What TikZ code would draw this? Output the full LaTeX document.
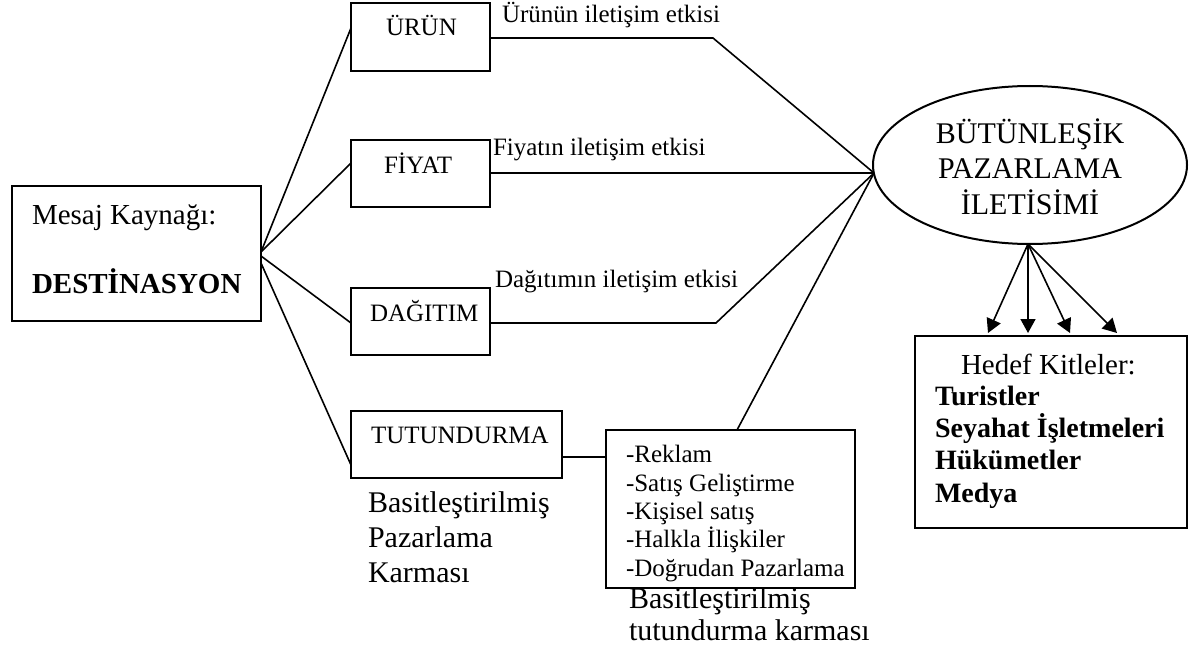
\documentclass[tikz,border=0pt]{standalone}
\usepackage{fontspec}
\setmainfont{Liberation Serif}
\usetikzlibrary{shapes.geometric,arrows.meta,calc}
\newcommand\szS{\fontsize{25}{29}\selectfont}
\newcommand\szM{\fontsize{29}{34}\selectfont}
\newcommand\szL{\fontsize{30}{35}\selectfont}
\newcommand\szB{\fontsize{28}{32}\selectfont}
\begin{document}
\begin{tikzpicture}[x=1pt,y=-1pt,
  box/.style={draw,line width=2pt,inner sep=0pt,outer sep=0pt},
  lbl/.style={inner sep=0pt,outer sep=0pt,anchor=base west},
  clbl/.style={inner sep=0pt,outer sep=0pt,anchor=base},
  conn/.style={line width=1.6pt,line join=miter},
  arr/.style={conn,-{Triangle[length=14pt,width=15pt]}}]
\useasboundingbox (0,0) rectangle (1199,658);
\fill[white] (0,0) rectangle (1199,658);

% boxes
\node[box,minimum width=249pt,minimum height=135pt] (src) at (136.5,253.5) {};
\node[box,minimum width=139pt,minimum height=68pt] (urun) at (420.5,37) {};
\node[box,minimum width=139pt,minimum height=67pt] (fiyat) at (420.5,173.5) {};
\node[box,minimum width=139pt,minimum height=67pt] (dagitim) at (420.5,321.5) {};
\node[box,minimum width=211pt,minimum height=67pt] (tutun) at (456.5,444.5) {};
\node[box,minimum width=249pt,minimum height=158pt] (list) at (730.5,509) {};
\node[box,minimum width=272pt,minimum height=192pt] (hedef) at (1051,432) {};
\node[box,ellipse,minimum width=314pt,minimum height=158pt] (ell) at (1030,165) {};

% texts
\node[lbl,font=\szM] (srcA) at (32,224) {Mesaj Kaynağı:};
\node[lbl,font=\szM\bfseries] (srcB) at (32,293) {DESTİNASYON};
\node[lbl,font=\szS] (urunT) at (386,36) {ÜRÜN};
\node[lbl,font=\szS] (fiyatT) at (384,173) {FİYAT};
\node[lbl,font=\szS] (dagitimT) at (370,321) {DAĞITIM};
\node[lbl,font=\szS] (tutunT) at (371,443) {TUTUNDURMA};
\node[lbl,font=\szS] (urunL) at (502,23) {Ürünün iletişim etkisi};
\node[lbl,font=\szS] (fiyatL) at (493,156) {Fiyatın iletişim etkisi};
\node[lbl,font=\szS] (dagitimL) at (495,287) {Dağıtımın iletişim etkisi};
\node[lbl,font=\szS] (li1) at (626,462) {-Reklam};
\node[lbl,font=\szS] (li2) at (626,491) {-Satış Geliştirme};
\node[lbl,font=\szS] (li3) at (626,519) {-Kişisel satış};
\node[lbl,font=\szS] (li4) at (626,547) {-Halkla İlişkiler};
\node[lbl,font=\szS] (li5) at (626,576) {-Doğrudan Pazarlama};
\node[lbl,font=\szL] (bpk1) at (368,512) {Basitleştirilmiş};
\node[lbl,font=\szL] (bpk2) at (368,547) {Pazarlama};
\node[lbl,font=\szL] (bpk3) at (368,582) {Karması};
\node[lbl,font=\szL] (btk1) at (629,608) {Basitleştirilmiş};
\node[lbl,font=\szL] (btk2) at (629,640) {tutundurma karması};
\node[clbl,font=\szL] (e1) at (1030,143) {BÜTÜNLEŞİK};
\node[clbl,font=\szL] (e2) at (1030,178) {PAZARLAMA};
\node[clbl,font=\szL] (e3) at (1030,214) {İLETİSİMİ};
\node[lbl,font=\szM] (hk) at (961,374) {Hedef Kitleler:};
\node[lbl,font=\szB\bfseries] (hk1) at (935,405) {Turistler};
\node[lbl,font=\szB\bfseries] (hk2) at (935,437) {Seyahat İşletmeleri};
\node[lbl,font=\szB\bfseries] (hk3) at (935,469) {Hükümetler};
\node[lbl,font=\szB\bfseries] (hk4) at (935,502) {Medya};

% connectors: source fan
\draw[conn] ($(src.east)+(0,-1.5)$) -- ($(urun.west)+(0,-9)$);
\draw[conn] ($(src.east)+(0,-1.5)$) -- ($(fiyat.west)+(0,-10.5)$);
\draw[conn] ($(src.east)+(0,2.5)$) -- ($(dagitim.west)+(0,1.5)$);
\draw[conn] ($(src.east)+(0,9.5)$) -- ($(tutun.west)+(0,20.5)$);

% connectors: to the ellipse
\coordinate (hub) at ($(ell.center)+(-156,8)$);
\coordinate (u1) at (713,38);
\coordinate (d1) at (716,323);
\draw[conn] ($(urun.east)+(0,1)$) -- (u1) -- (hub);
\draw[conn] ($(fiyat.east)+(0,-0.5)$) -- (hub);
\draw[conn] ($(dagitim.east)+(0,1.5)$) -- (d1) -- (hub);
\draw[conn] ($(list.north)+(6.5,0)$) -- (hub);
\draw[conn] ($(tutun.east)+(0,12.5)$) coordinate (t1) -- (t1 -| list.west);

% arrows to target audiences
\coordinate (eo) at ($(ell.south)+(-2,0)$);
\draw[arr] (eo) -- ($(hedef.north)+(-63,-3)$);
\draw[arr] (eo) -- ($(hedef.north)+(-23,-3)$);
\draw[arr] (eo) -- ($(hedef.north)+(19,-3)$);
\draw[arr] (eo) -- ($(hedef.north)+(66,-3)$);
\end{tikzpicture}
\end{document}
